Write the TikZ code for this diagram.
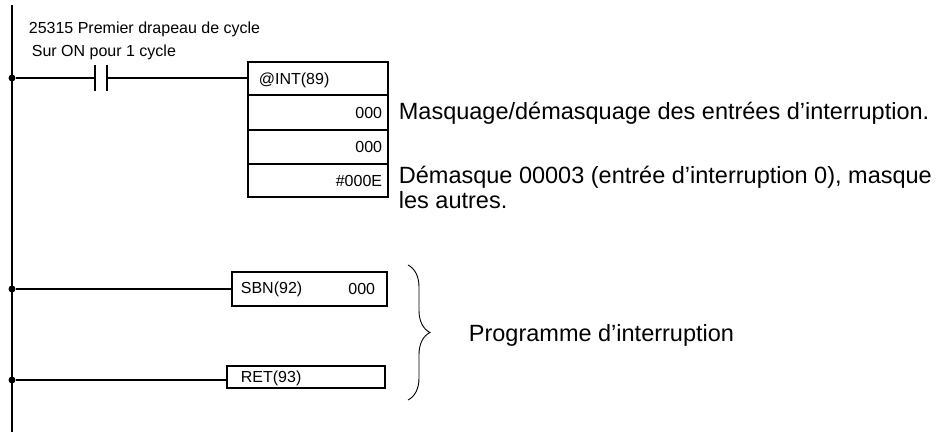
\documentclass[tikz,border=0pt]{standalone}
\usepackage{fontspec}
\setmainfont{Liberation Sans}
\usetikzlibrary{positioning,decorations.pathreplacing}

\begin{document}
\begin{tikzpicture}[x=1pt,y=-1pt,line width=1.8pt,font=\fontsize{16}{19}\selectfont]
  \tikzstyle{junction}=[circle,fill,inner sep=0pt,minimum size=7pt]
  \tikzstyle{txt}=[inner sep=0pt,anchor=west]
  \tikzstyle{val}=[inner sep=0pt,anchor=east]
  \tikzstyle{note}=[txt,font=\fontsize{23.5}{27}\selectfont]
  \useasboundingbox (0,0) rectangle (945,432);

  % rail
  \coordinate (top) at (12,5);
  \coordinate (bot) at (12,432);
  \draw (top) -- (bot);
  \node[junction] (j_1) at (12,78) {};
  \node[junction] (j_2) at (12,289) {};
  \node[junction] (j_3) at (12,380) {};

  % contact 25315
  \coordinate (c_l) at (95,78);
  \coordinate (c_r) at (107,78);
  \draw (j_1) -- (c_l);
  \draw (c_r) -- (248,78);
  \draw (95,65) -- (95,91);
  \draw (107,65) -- (107,91);
  \node[txt] (lab_1) at (28,29) {25315 Premier drapeau de cycle};
  \node[txt] (lab_2) at (31,52) {Sur ON pour 1 cycle};

  % INT block
  \draw (248,62) rectangle (388,197);
  \draw (248,95) -- (388,95);
  \draw (248,130) -- (388,130);
  \draw (248,164) -- (388,164);
  \node[txt] (int) at (258,80) {@INT(89)};
  \node[val] (op_1) at (383,113) {000};
  \node[val] (op_2) at (383,147) {000};
  \node[val] (op_3) at (383,181) {\#000E};
  \node[note] (com_1) at (398,113) {Masquage/démasquage des entrées d’interruption.};
  \node[note] (com_2) at (398,177) {Démasque 00003 (entrée d’interruption 0), masque};
  \node[note] (com_3) at (398,200) {les autres.};

  % SBN and RET
  \draw (232,272) rectangle (387,306);
  \draw (j_2) -- (232,289);
  \node[txt] (sbn) at (240,289) {SBN(92)};
  \node[val] (sbn_n) at (376,289) {000};
  \draw (227,366) rectangle (385,388);
  \draw (j_3) -- (227,380);
  \node[txt] (ret) at (240,378) {RET(93)};

  % brace
  \draw[line width=0.9pt,decorate,decoration={brace,amplitude=22pt}] (408,265) -- (408,400);
  \node[note] (prog) at (468,335) {Programme d’interruption};
\end{tikzpicture}
\end{document}
